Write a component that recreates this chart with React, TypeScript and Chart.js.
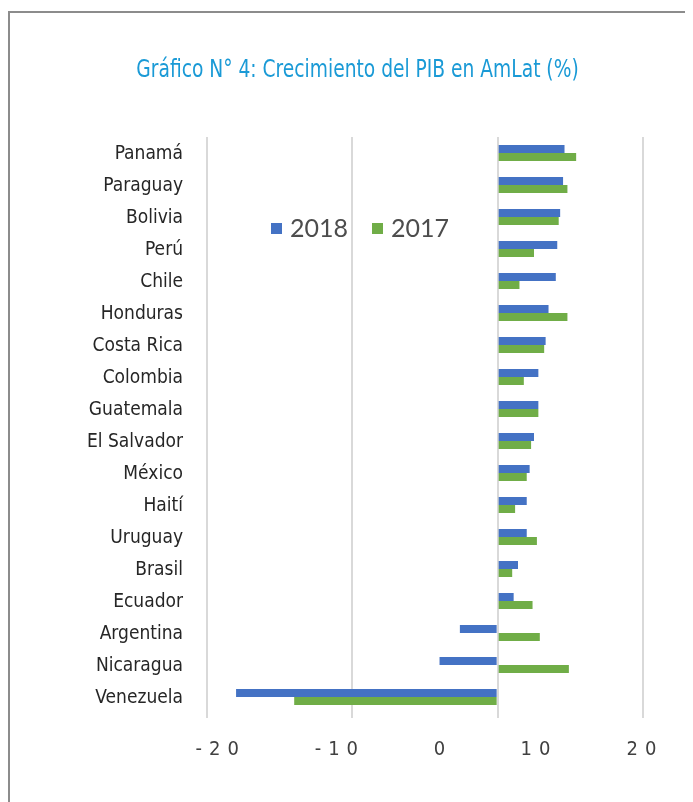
import React, { useEffect, useRef } from "react";
import { Chart, registerables } from "chart.js";

Chart.register(...registerables);

const TITLE = "Gráfico N° 4: Crecimiento del PIB en AmLat (%)";
const categories = [
  "Panamá", "Paraguay", "Bolivia", "Perú", "Chile", "Honduras", "Costa Rica",
  "Colombia", "Guatemala", "El Salvador", "México", "Haití", "Uruguay",
  "Brasil", "Ecuador", "Argentina", "Nicaragua", "Venezuela",
];
const series2018 = [4.6, 4.5, 4.3, 4.1, 4.0, 3.5, 3.3, 2.8, 2.8, 2.5, 2.2, 2.0, 2.0, 1.4, 1.1, -2.6, -4.0, -18.0];
const series2017 = [5.4, 4.8, 4.2, 2.5, 1.5, 4.8, 3.2, 1.8, 2.8, 2.3, 2.0, 1.2, 2.7, 1.0, 2.4, 2.9, 4.9, -14.0];
const xTickLabels = ["-20", "-10", "0", "10", "20"];
// where the (misaligned) axis labels sit, in axis units
const xTickLabelAt = [-19.3, -11.1, -4.0, 2.6, 9.9];

const NARROW = '"DejaVu Sans Condensed", "Liberation Sans Narrow", "Roboto", sans-serif';

const textPlugin = {
  id: "customText",
  afterDraw(chart: any) {
    const ctx = chart.ctx as CanvasRenderingContext2D;
    const area = chart.chartArea;
    const xs = chart.scales.x;
    const ys = chart.scales.y;

    // title (horizontally condensed)
    ctx.save();
    ctx.font = `25px ${NARROW}`;
    ctx.fillStyle = "#1a9ad6";
    ctx.textAlign = "center";
    ctx.textBaseline = "middle";
    const sx = 0.83;
    ctx.translate(349.5, 62);
    ctx.scale(sx, 1);
    ctx.fillText(TITLE, 0, 0);
    ctx.restore();

    // category labels
    ctx.save();
    ctx.font = `19px ${NARROW}`;
    ctx.fillStyle = "#262626";
    ctx.textBaseline = "middle";
    ctx.textAlign = "right";
    categories.forEach((c, i) => {
      ctx.fillText(c, area.left - 24, ys.getPixelForValue(i) + 1);
    });
    ctx.restore();

    // x labels
    ctx.save();
    ctx.font = `20px ${NARROW}`;
    ctx.fillStyle = "#404040";
    ctx.textBaseline = "middle";
    ctx.textAlign = "left";
    const ls2 = 7;
    (ctx as any).letterSpacing = ls2 + "px";
    xTickLabels.forEach((t, i) => {
      const w = ctx.measureText(t).width - ls2;
      ctx.fillText(t, xs.getPixelForValue(xTickLabelAt[i]) - w / 2, area.bottom + 37);
    });
    ctx.restore();

    // legend inside plot
    ctx.save();
    ctx.font = `25px Lato, "Open Sans", sans-serif`;
    ctx.textBaseline = "alphabetic";
    ctx.textAlign = "left";
    const lx = area.left + 64;
    const ly = area.top + 86;
    const items = chart.data.datasets.map((d: any) => ({ label: d.label, color: d.backgroundColor }));
    let x = lx;
    items.forEach((it: any) => {
      ctx.fillStyle = it.color;
      ctx.fillRect(x, ly, 11, 11);
      ctx.fillStyle = "#4d4d4d";
      ctx.fillText(it.label, x + 19, ly + 14);
      x += 101;
    });
    ctx.restore();
  },
};

export default function App() {
  const ref = useRef<HTMLCanvasElement | null>(null);
  useEffect(() => {
    if (!ref.current) return;
    const chart = new Chart(ref.current, {
      type: "bar",
      data: {
        labels: categories,
        datasets: [
          { label: "2018", data: series2018, backgroundColor: "#4472C4", barPercentage: 1, categoryPercentage: 0.5 },
          { label: "2017", data: series2017, backgroundColor: "#70AD47", barPercentage: 1, categoryPercentage: 0.5 },
        ],
      },
      options: {
        indexAxis: "y",
        animation: false,
        responsive: false,
        devicePixelRatio: 1,
        layout: { padding: { top: 129, right: 50, left: 0, bottom: 0 } },
        plugins: {
          legend: { display: false },
          title: { display: false },
          tooltip: { enabled: false },
        },
        scales: {
          x: {
            min: -20,
            max: 10,
            ticks: { stepSize: 10, display: false },
            grid: { color: "#d9d9d9", lineWidth: 2, drawTicks: true, tickLength: 5 },
            border: { display: false },
            afterFit: (s: any) => { s.height = 89; },
          },
          y: {
            ticks: { display: false },
            grid: { display: false },
            border: { display: false },
            afterFit: (s: any) => { s.width = 199; },
          },
        },
      },
      plugins: [textPlugin],
    });
    return () => chart.destroy();
  }, []);
  return (
    <div style={{ position: "relative", width: 685, height: 794 }}>
      <div
        style={{
          position: "absolute",
          left: 0,
          top: 3,
          width: 685,
          height: 791,
          boxSizing: "border-box",
          borderLeft: "2px solid #8c8c8c",
          borderTop: "2px solid #8c8c8c",
        }}
      />
      <canvas ref={ref} width={685} height={794} style={{ position: "absolute", left: 0, top: 0 }} />
    </div>
  );
}
